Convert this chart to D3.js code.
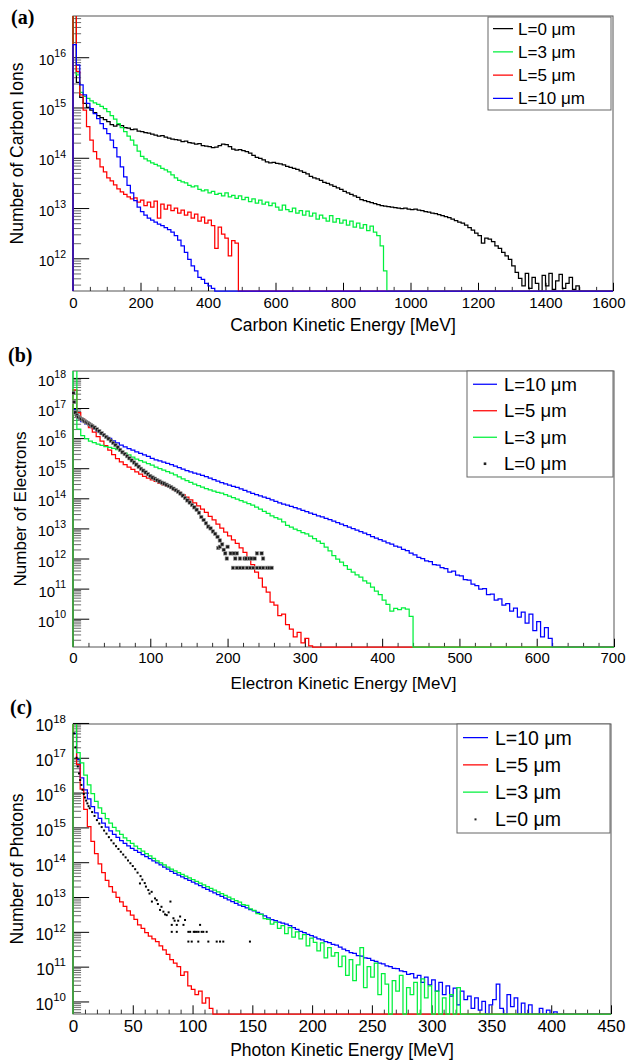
<!DOCTYPE html>
<html>
<head>
<meta charset="utf-8">
<script src="https://cdn.jsdelivr.net/npm/d3@7"></script>
<style>
  body { margin: 0; background: #fff; }
  svg { display: block; }
</style>
</head>
<body>
<script>
  // ---------- data (log10 of counts per bin, 0 = empty bin) ----------

  // (a) carbon ions, 10 MeV bins starting at 0
  const carbonBinWidth = 10;
  const carbonXTicks = [0, 200, 400, 600, 800, 1000, 1200, 1400, 1600];
  const carbonYDecades = [12, 13, 14, 15, 16];
  const carbonL0 = [
    17.0, 15.50, 15.20, 15.08, 15.00, 14.95, 14.90, 14.84, 14.80, 14.76,
    14.72, 14.66, 14.63, 14.66, 14.64, 14.60, 14.59, 14.56, 14.57, 14.53,
    14.52, 14.50, 14.49, 14.47, 14.45, 14.43, 14.44, 14.41, 14.39, 14.37,
    14.36, 14.35, 14.32, 14.33, 14.30, 14.29, 14.27, 14.28, 14.24, 14.23,
    14.22, 14.20, 14.21, 14.24, 14.27, 14.26, 14.22, 14.17, 14.15, 14.16,
    14.14, 14.12, 14.09, 14.05, 14.01, 13.99, 13.96, 13.92, 13.90, 13.91,
    13.89, 13.88, 13.86, 13.83, 13.81, 13.79, 13.77, 13.74, 13.71, 13.68,
    13.63, 13.60, 13.58, 13.55, 13.51, 13.49, 13.46, 13.43, 13.40, 13.37,
    13.33, 13.30, 13.27, 13.24, 13.21, 13.17, 13.15, 13.13, 13.11, 13.09,
    13.07, 13.05, 13.04, 13.03, 13.02, 13.01, 13.00, 12.99, 13.00, 12.98,
    12.97, 12.98, 12.96, 12.95, 12.93, 12.92, 12.90, 12.89, 12.87, 12.85,
    12.83, 12.81, 12.78, 12.75, 12.72, 12.70, 12.66, 12.61, 12.56, 12.50,
    12.45, 12.30, 12.40, 12.38, 12.33, 12.25, 12.20, 12.12, 12.05, 11.98,
    11.85, 11.72, 11.60, 11.45, 11.70, 11.40, 11.62, 11.50, 0, 11.66,
    11.45, 11.70, 11.38, 11.55, 11.68, 11.40, 11.50, 11.62, 11.38, 11.45
  ];
  const carbonL3 = [
    17.0, 15.65, 15.30, 15.22, 15.18, 15.13, 15.09, 15.06, 15.02, 14.98,
    14.92, 14.84, 14.77, 14.68, 14.60, 14.52, 14.43, 14.35, 14.25, 14.13,
    14.03, 13.98, 13.94, 13.90, 13.87, 13.84, 13.79, 13.76, 13.72, 13.66,
    13.60, 13.55, 13.52, 13.50, 13.45, 13.42, 13.44, 13.37, 13.34, 13.36,
    13.30, 13.33, 13.27, 13.29, 13.24, 13.30, 13.22, 13.25, 13.19, 13.24,
    13.17, 13.21, 13.13, 13.18, 13.10, 13.16, 13.08, 13.12, 13.05, 13.10,
    13.02, 12.96, 13.06, 12.97, 12.93, 13.00, 12.90, 12.95, 12.86, 12.94,
    12.84, 12.90, 12.78, 12.86, 12.80, 12.74, 12.85, 12.72, 12.79, 12.70,
    12.76, 12.66, 12.74, 12.62, 12.70, 12.60, 12.67, 12.55, 12.64, 12.52,
    12.45, 12.25, 11.75
  ];
  const carbonL5 = [
    17.0, 15.72, 15.25, 14.95, 14.62, 14.35, 14.12, 13.98, 13.82, 13.72,
    13.60, 13.54, 13.46, 13.38, 13.32, 13.27, 13.22, 13.18, 13.20, 13.12,
    13.16, 13.05, 13.12, 13.02, 13.14, 12.80, 13.08, 12.98, 13.06, 12.95,
    13.00, 12.90, 12.96, 12.86, 12.92, 12.80, 12.88, 12.74, 12.82, 12.70,
    12.76, 12.65, 12.20, 12.62, 12.48, 12.40, 12.05, 12.35, 12.30
  ];
  const carbonL10 = [
    16.25, 15.85, 15.45, 15.25, 15.08, 14.98, 14.88, 14.78, 14.68, 14.58,
    14.48, 14.35, 14.20, 14.02, 13.82, 13.62, 13.45, 13.30, 13.15, 13.02,
    12.93, 12.86, 12.80, 12.76, 12.72, 12.68, 12.65, 12.61, 12.57, 12.52,
    12.45, 12.36, 12.25, 12.12, 11.98, 11.85, 11.75, 11.62, 11.58, 11.50,
    11.45, 11.40
  ];

  // (b) electrons, 5 MeV bins starting at 0
  const electronBinWidth = 5;
  const electronXTicks = [0, 100, 200, 300, 400, 500, 600, 700];
  const electronYDecades = [10, 11, 12, 13, 14, 15, 16, 17, 18];
  const electronL10 = [
    16.95, 16.65, 16.55, 16.47, 16.40, 16.31, 16.22, 16.14, 16.06, 15.99,
    15.91, 15.84, 15.77, 15.71, 15.65, 15.60, 15.54, 15.49, 15.44, 15.39,
    15.33, 15.28, 15.24, 15.20, 15.16, 15.12, 15.07, 15.02, 14.97, 14.92,
    14.88, 14.84, 14.80, 14.76, 14.72, 14.67, 14.62, 14.57, 14.52, 14.48,
    14.44, 14.40, 14.36, 14.31, 14.26, 14.21, 14.16, 14.12, 14.08, 14.04,
    14.00, 13.95, 13.90, 13.85, 13.81, 13.77, 13.73, 13.69, 13.65, 13.60,
    13.56, 13.51, 13.47, 13.42, 13.38, 13.33, 13.29, 13.24, 13.19, 13.14,
    13.09, 13.04, 12.99, 12.94, 12.89, 12.84, 12.79, 12.73, 12.68, 12.63,
    12.58, 12.52, 12.48, 12.41, 12.38, 12.30, 12.26, 12.18, 12.12, 12.04,
    12.00, 11.92, 11.90, 11.80, 11.78, 11.70, 11.66, 11.55, 11.58, 11.45,
    11.42, 11.30, 11.28, 11.15, 11.10, 10.98, 11.00, 10.80, 10.82, 10.62,
    10.66, 10.45, 10.50, 10.25, 10.35, 10.05, 10.22, 9.85, 10.15, 9.60,
    9.90, 9.40, 9.70, 9.35
  ];
  const electronL5 = [
    17.60, 16.85, 16.65, 16.50, 16.35, 16.20, 16.05, 15.90, 15.75, 15.60,
    15.45, 15.32, 15.21, 15.12, 15.04, 14.96, 14.88, 14.80, 14.73, 14.67,
    14.61, 14.56, 14.50, 14.45, 14.40, 14.34, 14.27, 14.20, 14.12, 14.04,
    13.95, 13.85, 13.75, 13.64, 13.53, 13.40, 13.28, 13.14, 13.01, 12.88,
    12.75, 12.62, 12.50, 12.35, 12.20, 12.02, 11.80, 11.55, 11.35, 11.05,
    10.88, 10.55, 10.45, 10.10, 10.15, 9.80, 9.65, 9.40, 9.55, 9.20,
    9.35, 9.10
  ];
  const electronL3 = [
    18.50, 16.30, 16.08, 15.98, 15.90, 15.85, 15.80, 15.76, 15.72, 15.69,
    15.66, 15.62, 15.56, 15.50, 15.44, 15.37, 15.30, 15.25, 15.20, 15.15,
    15.10, 15.04, 14.99, 14.94, 14.89, 14.84, 14.78, 14.71, 14.65, 14.59,
    14.53, 14.47, 14.42, 14.37, 14.32, 14.28, 14.24, 14.20, 14.17, 14.12,
    14.07, 14.02, 13.97, 13.92, 13.87, 13.82, 13.77, 13.71, 13.64, 13.57,
    13.50, 13.42, 13.36, 13.31, 13.22, 13.10, 13.04, 12.98, 12.93, 12.86,
    12.82, 12.74, 12.66, 12.58, 12.50, 12.38, 12.25, 12.10, 11.98, 11.88,
    11.76, 11.64, 11.55, 11.46, 11.38, 11.26, 11.18, 11.05, 10.92, 10.80,
    10.62, 10.48, 10.25, 10.34, 10.30, 10.36, 10.32, 10.08
  ];
  // L=0 shown as markers: [energy MeV, log10 count]
  const electronL0 = [
    [0.5, 17.50], [1.5, 17.20], [3, 16.85], [5, 16.75], [7, 16.70], [9, 16.66], [11, 16.63],
    [13, 16.60], [15, 16.56], [17, 16.53], [19, 16.50], [21, 16.47], [23, 16.43], [25, 16.40],
    [28, 16.35], [31, 16.29], [34, 16.23], [37, 16.16], [40, 16.10], [43, 16.04], [46, 15.98],
    [49, 15.91], [52, 15.84], [55, 15.77], [58, 15.69], [61, 15.61], [64, 15.53], [67, 15.47],
    [70, 15.40], [73, 15.33], [76, 15.26], [79, 15.19], [82, 15.12], [85, 15.05], [88, 14.98],
    [91, 14.92], [94, 14.86], [97, 14.80], [100, 14.74], [103, 14.69], [106, 14.65], [109, 14.60],
    [112, 14.56], [115, 14.52], [118, 14.49], [121, 14.45], [124, 14.41], [127, 14.37], [130, 14.32],
    [133, 14.27], [136, 14.22], [139, 14.16], [142, 14.09], [145, 14.01], [148, 13.93], [151, 13.86],
    [154, 13.78], [157, 13.70], [160, 13.62], [163, 13.52], [166, 13.38], [169, 13.28], [172, 13.17],
    [175, 13.06], [178, 13.00], [181, 12.90], [184, 12.82], [187, 12.72], [190, 12.60],
    [188, 12.35], [190, 12.39], [193, 12.47], [195, 12.29], [197, 12.17], [199, 12.00], [200, 12.39],
    [204, 12.17], [207, 11.69], [208, 12.17], [210, 12.00], [212, 12.17], [212, 11.69], [216, 11.69],
    [216, 12.00], [220, 11.69], [222, 12.00], [224, 12.00], [225, 11.69], [228, 12.00], [229, 11.69],
    [231, 12.00], [233, 11.69], [235, 12.00], [238, 12.17], [238, 11.69], [242, 11.69], [244, 12.17],
    [246, 12.00], [246, 11.69], [251, 11.69], [254, 11.69], [257, 11.69]
  ];

  // (c) photons, 3 MeV bins starting at 0
  const photonBinWidth = 3;
  const photonXTicks = [0, 50, 100, 150, 200, 250, 300, 350, 400, 450];
  const photonYDecades = [10, 11, 12, 13, 14, 15, 16, 17, 18];
  const photonL10 = [
    17.70, 16.95, 16.42, 16.08, 15.82, 15.60, 15.42, 15.26, 15.12, 15.01,
    14.90, 14.80, 14.71, 14.62, 14.54, 14.47, 14.40, 14.34, 14.28, 14.22,
    14.16, 14.10, 14.04, 13.98, 13.92, 13.86, 13.80, 13.74, 13.68, 13.63,
    13.58, 13.53, 13.48, 13.43, 13.38, 13.33, 13.27, 13.22, 13.17, 13.12,
    13.07, 13.02, 12.97, 12.92, 12.87, 12.82, 12.77, 12.73, 12.69, 12.64,
    12.60, 12.56, 12.51, 12.46, 12.40, 12.35, 12.32, 12.28, 12.25, 12.22,
    12.18, 12.12, 12.07, 12.01, 11.98, 11.93, 11.89, 11.85, 11.80, 11.77,
    11.72, 11.69, 11.64, 11.62, 11.56, 11.50, 11.46, 11.40, 11.38, 11.32,
    11.30, 11.25, 11.24, 11.18, 11.15, 11.10, 11.08, 11.02, 11.00, 10.95,
    10.94, 10.88, 10.86, 10.78, 10.80, 10.68, 10.75, 10.55, 10.70, 10.48,
    10.62, 10.30, 10.55, 10.20, 10.45, 10.15, 10.38, 9.90, 10.30, 10.05,
    10.15, 9.80, 10.10, 9.75, 10.00, 0, 9.90, 10.05, 10.50, 9.80,
    0, 10.20, 9.85, 10.10, 0, 9.95, 0, 9.90, 0, 0,
    9.80, 0, 9.75, 0, 9.70
  ];
  const photonL5 = [
    18.00, 16.80, 16.10, 15.52, 15.02, 14.60, 14.25, 13.95, 13.70, 13.48,
    13.30, 13.14, 12.99, 12.86, 12.73, 12.60, 12.48, 12.36, 12.20, 12.10,
    11.98, 11.88, 11.80, 11.72, 11.60, 11.48, 11.35, 11.20, 11.10, 11.00,
    10.75, 10.85, 10.45, 10.35, 10.20, 10.30, 9.95, 10.10, 9.80
  ];
  const photonL3 = [
    18.20, 17.15, 16.85, 16.50, 16.22, 15.97, 15.75, 15.56, 15.40, 15.25,
    15.12, 15.00, 14.90, 14.80, 14.70, 14.62, 14.54, 14.46, 14.39, 14.32,
    14.25, 14.18, 14.11, 14.04, 13.98, 13.92, 13.86, 13.80, 13.75, 13.70,
    13.65, 13.60, 13.55, 13.50, 13.45, 13.40, 13.35, 13.30, 13.25, 13.20,
    13.15, 13.10, 13.05, 13.00, 12.95, 12.90, 12.85, 12.78, 12.76, 12.66,
    12.62, 12.52, 12.50, 12.38, 12.36, 12.22, 12.28, 12.10, 12.18, 11.95,
    12.12, 11.85, 12.00, 11.80, 11.92, 11.60, 11.82, 11.70, 11.45, 11.68,
    11.25, 11.55, 11.30, 11.40, 11.00, 11.30, 10.75, 11.20, 10.60, 11.05,
    11.55, 10.40, 11.00, 10.70, 11.10, 10.20, 10.80, 10.50, 0, 10.60,
    10.30, 10.75, 0, 10.40, 10.20, 10.55, 0, 10.65, 10.10, 10.45,
    0, 10.30, 0, 10.10, 0, 10.20, 0, 10.40, 0
  ];
  const photonL0 = [
    [1, 17.70], [2, 17.30], [3, 17.00], [4, 16.75], [5, 16.55], [6, 16.36], [7, 16.22], [8, 16.08],
    [9, 15.96], [10, 15.86], [11, 15.77], [12, 15.69], [13, 15.61], [14, 15.55], [16, 15.44], [18, 15.33],
    [20, 15.21], [22, 15.11], [24, 15.01], [26, 14.91], [28, 14.82], [30, 14.72], [32, 14.63], [34, 14.54],
    [36, 14.46], [38, 14.38], [40, 14.30], [42, 14.22], [44, 14.14], [46, 14.05], [48, 13.97], [50, 13.89],
    [52, 13.80], [54, 13.70], [56, 13.39], [56.5, 13.60], [58, 13.50], [60, 13.40], [61, 13.30], [63, 13.20],
    [64, 13.10], [65.8, 13.15], [66, 12.87], [68.6, 12.96], [70, 12.91], [71, 12.80], [72.8, 12.63], [74, 12.72],
    [75.6, 12.58], [77, 12.50], [78.4, 12.48], [80, 12.56], [81.5, 12.87], [82.6, 12.20], [82.6, 12.00],
    [84, 12.39], [85, 12.32], [86.8, 12.20], [86.8, 12.00], [88, 12.32], [89.6, 12.44], [92.4, 12.20],
    [93.7, 12.34], [96.5, 12.00], [96.5, 11.72], [98, 12.00], [99.3, 11.72], [101, 12.00], [102, 12.00],
    [103.5, 12.00], [104.8, 11.72], [105, 12.00], [106.3, 12.20], [107.6, 12.00], [109, 12.00],
    [111.8, 12.00], [113.2, 11.72], [120.2, 11.72], [123, 11.72], [125.7, 11.72], [148, 11.72]
  ];

  // ---------- drawing ----------
  const SANS = "'Liberation Sans', Arial, Helvetica, sans-serif";
  const SERIF = "'Liberation Serif', 'Times New Roman', serif";
  const colors = { L0: "#000000", L3: "#00f03c", L5: "#ff0000", L10: "#0000ff" };

  const svg = d3.select("body").append("svg")
    .attr("width", 627)
    .attr("height", 1064);

  const panels = [
    {
      id: "a", tag: "(a)", tagPos: [11, 24],
      frame: { left: 73, right: 613, top: 16, bottom: 291 },
      xMax: 1600, xTicks: carbonXTicks, xMinorStep: 50,
      yExp: [11.35, 16.82], yDecades: carbonYDecades,
      xTitle: "Carbon Kinetic Energy [MeV]", xTitleY: 331,
      yTitle: "Number of Carbon Ions", yTitleX: 23,
      font: { tick: 15, ytick: 14, exp: 10.5, title: 17.5, legend: 17 },
      labelBase: 17,
      binWidth: carbonBinWidth,
      series: [
        { hist: carbonL0, color: colors.L0, label: "L=0 μm" },
        { hist: carbonL3, color: colors.L3, label: "L=3 μm" },
        { hist: carbonL5, color: colors.L5, label: "L=5 μm" },
        { hist: carbonL10, color: colors.L10, label: "L=10 μm" }
      ],
      legend: { x0: 488, x1: 611, y0: 17, y1: 110, sample: [493, 513], textX: 518 }
    },
    {
      id: "b", tag: "(b)", tagPos: [8, 362],
      frame: { left: 73, right: 614, top: 371, bottom: 647 },
      xMax: 700, xTicks: electronXTicks, xMinorStep: 20,
      yExp: [9.06, 18.23], yDecades: electronYDecades,
      xTitle: "Electron Kinetic Energy [MeV]", xTitleY: 689,
      yTitle: "Number of Electrons", yTitleX: 26,
      font: { tick: 15, ytick: 15, exp: 10.5, title: 17, legend: 18.5 },
      labelBase: 16,
      binWidth: electronBinWidth,
      series: [
        { hist: electronL10, color: colors.L10, label: "L=10 μm" },
        { hist: electronL5, color: colors.L5, label: "L=5 μm" },
        { hist: electronL3, color: colors.L3, label: "L=3 μm" },
        { points: electronL0, color: colors.L0, label: "L=0 μm", marker: "box" }
      ],
      legend: { x0: 467, x1: 613, y0: 371, y1: 477, sample: [473, 497], textX: 504 }
    },
    {
      id: "c", tag: "(c)", tagPos: [10, 714],
      frame: { left: 73, right: 611, top: 724, bottom: 1014 },
      xMax: 450, xTicks: photonXTicks, xMinorStep: 10,
      yExp: [9.64, 17.97], yDecades: photonYDecades,
      xTitle: "Photon Kinetic Energy [MeV]", xTitleY: 1056,
      yTitle: "Number of Photons", yTitleX: 23,
      font: { tick: 17, ytick: 16, exp: 11.5, title: 17.5, legend: 19.5 },
      labelBase: 17.5,
      binWidth: photonBinWidth,
      series: [
        { hist: photonL10, color: colors.L10, label: "L=10 μm" },
        { hist: photonL5, color: colors.L5, label: "L=5 μm" },
        { hist: photonL3, color: colors.L3, label: "L=3 μm" },
        { points: photonL0, color: colors.L0, label: "L=0 μm", marker: "dot" }
      ],
      legend: { x0: 457, x1: 610, y0: 724, y1: 833, sample: [463, 488], textX: 495 }
    }
  ];

  panels.forEach(drawPanel);

  function drawPanel(p) {
    const f = p.frame;
    const g = svg.append("g");
    const lo = Math.pow(10, p.yExp[0]), hi = Math.pow(10, p.yExp[1]);

    const x = d3.scaleLinear().domain([0, p.xMax]).range([f.left, f.right]);
    const y = d3.scaleLog().domain([lo, hi]).range([f.bottom, f.top]);

    const xTickLen = 0.03 * (f.bottom - f.top);
    const yTickLen = 0.03 * (f.right - f.left);

    // frame
    g.append("rect")
      .attr("x", f.left).attr("y", f.top)
      .attr("width", f.right - f.left).attr("height", f.bottom - f.top)
      .attr("fill", "none").attr("stroke", "#555").attr("stroke-width", 1);

    // x minor ticks
    const xMinor = d3.range(0, p.xMax + 1e-6, p.xMinorStep).filter(v => !p.xTicks.includes(v));
    g.append("g")
      .attr("transform", `translate(0,${f.bottom})`)
      .call(d3.axisBottom(x).tickValues(xMinor).tickSize(-xTickLen / 2).tickFormat(""))
      .call(a => a.select(".domain").remove())
      .attr("color", "#333");

    // x major ticks + labels
    g.append("g")
      .attr("transform", `translate(0,${f.bottom})`)
      .call(d3.axisBottom(x).tickValues(p.xTicks).tickSize(-xTickLen)
        .tickPadding(p.labelBase - 0.71 * p.font.tick).tickFormat(d3.format("d")))
      .call(a => a.select(".domain").remove())
      .attr("color", "#000")
      .attr("font-family", SANS)
      .attr("font-size", p.font.tick)
      .call(a => a.selectAll("text").attr("dx", d => {
        // keep the last label inside the page
        const half = String(d).length * 0.556 * p.font.tick / 2;
        const over = x(d) + half - 625;
        return over > 0 ? -over : 0;
      }));

    // y minor ticks (2..9 per decade)
    const yMinor = [];
    for (let e = Math.floor(p.yExp[0]); e < Math.ceil(p.yExp[1]); e++) {
      for (let k = 2; k <= 9; k++) {
        const v = k * Math.pow(10, e);
        if (v >= lo && v <= hi) yMinor.push(v);
      }
    }
    g.append("g")
      .attr("transform", `translate(${f.left},0)`)
      .call(d3.axisLeft(y).tickValues(yMinor).tickSize(-yTickLen / 2).tickFormat(""))
      .call(a => a.select(".domain").remove())
      .attr("color", "#444")
      .selectAll("line").attr("stroke-width", 0.8);

    // y decades with 10^n labels
    g.append("g")
      .attr("transform", `translate(${f.left},0)`)
      .call(d3.axisLeft(y).tickValues(p.yDecades.map(e => Math.pow(10, e))).tickSize(-yTickLen).tickPadding(7))
      .call(a => a.select(".domain").remove())
      .attr("color", "#000")
      .attr("font-family", SANS)
      .attr("font-size", p.font.ytick)
      .call(a => a.selectAll("text").each(function (d) {
        const t = d3.select(this).attr("dy", null).text(null);
        t.append("tspan").attr("dy", 0.5 * p.font.ytick).text("10");
        t.append("tspan").attr("font-size", p.font.exp).attr("dy", -0.55 * p.font.ytick)
          .text(Math.round(Math.log10(d)));
      }));

    // clip for histograms
    const clipId = "clip-" + p.id;
    svg.append("clipPath").attr("id", clipId)
      .append("rect")
      .attr("x", f.left - 1).attr("y", f.top)
      .attr("width", f.right - f.left + 1).attr("height", f.bottom - f.top + 1.5);

    const plot = g.append("g").attr("clip-path", `url(#${clipId})`);
    const line = d3.line();

    const yOf = v => (v > 0 && v >= p.yExp[0]) ? y(Math.pow(10, v)) : y(lo);

    p.series.forEach(s => {
      if (s.hist) {
        const pts = [[x(0), y(lo)]];
        s.hist.forEach((v, i) => {
          const yy = yOf(v);
          pts.push([x(i * p.binWidth), yy], [x((i + 1) * p.binWidth), yy]);
        });
        pts.push([x(s.hist.length * p.binWidth), y(lo)], [x(p.xMax), y(lo)]);
        plot.append("path")
          .attr("d", line(pts))
          .attr("fill", "none")
          .attr("stroke", s.color)
          .attr("stroke-width", 1.25)
          .attr("stroke-linejoin", "miter");
      } else {
        const sz = s.marker === "box" ? 3.4 : 2;
        plot.append("g").selectAll("rect")
          .data(s.points)
          .join("rect")
          .attr("x", d => x(d[0]) - sz / 2)
          .attr("y", d => yOf(d[1]) - sz / 2)
          .attr("width", sz).attr("height", sz)
          .attr("fill", s.marker === "box" ? "#1a1a1a" : "#000")
          .attr("stroke", s.marker === "box" ? "#999" : "none")
          .attr("stroke-width", 0.6);
      }
    });

    // legend
    const L = p.legend;
    const lg = g.append("g");
    lg.append("rect")
      .attr("x", L.x0).attr("y", L.y0)
      .attr("width", L.x1 - L.x0).attr("height", L.y1 - L.y0)
      .attr("fill", "#fff").attr("stroke", "#666").attr("stroke-width", 1);
    const rowH = (L.y1 - L.y0) / p.series.length;
    p.series.forEach((s, k) => {
      const ry = L.y0 + rowH * (k + 0.5);
      if (s.hist) {
        lg.append("line")
          .attr("x1", L.sample[0]).attr("x2", L.sample[1])
          .attr("y1", ry).attr("y2", ry)
          .attr("stroke", s.color).attr("stroke-width", 1.25);
      } else {
        const cx = (L.sample[0] + L.sample[1]) / 2;
        const sz = s.marker === "box" ? 2.6 : 2;
        lg.append("rect")
          .attr("x", cx - sz / 2).attr("y", ry - sz / 2)
          .attr("width", sz).attr("height", sz)
          .attr("fill", "#222");
      }
      lg.append("text")
        .attr("x", L.textX).attr("y", ry)
        .attr("dy", "0.36em")
        .attr("font-family", SANS)
        .attr("font-size", p.font.legend)
        .text(s.label);
    });

    // axis titles
    g.append("text")
      .attr("x", (f.left + f.right) / 2).attr("y", p.xTitleY)
      .attr("text-anchor", "middle")
      .attr("font-family", SANS).attr("font-size", p.font.title)
      .text(p.xTitle);

    g.append("text")
      .attr("transform", `translate(${p.yTitleX},${(f.top + f.bottom) / 2}) rotate(-90)`)
      .attr("text-anchor", "middle")
      .attr("font-family", SANS).attr("font-size", p.font.title)
      .text(p.yTitle);

    // panel tag
    g.append("text")
      .attr("x", p.tagPos[0]).attr("y", p.tagPos[1])
      .attr("font-family", SERIF).attr("font-weight", "bold").attr("font-size", 20)
      .text(p.tag);
  }
</script>
</body>
</html>
